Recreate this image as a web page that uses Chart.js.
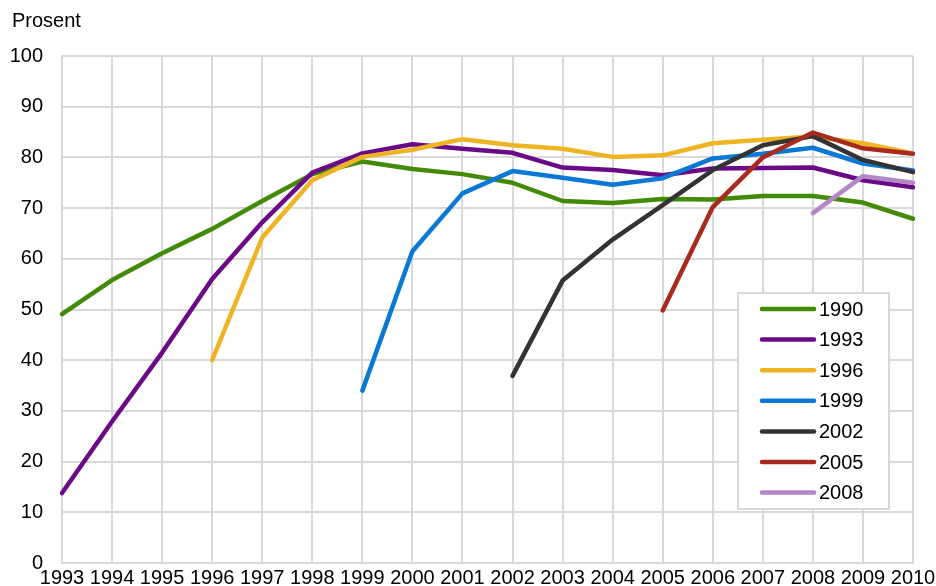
<!DOCTYPE html>
<html>
<head>
<meta charset="utf-8">
<script src="https://cdn.jsdelivr.net/npm/chart.js@4/dist/chart.umd.min.js"></script>
<style>
  html, body { margin: 0; padding: 0; background: #ffffff; }
  #wrap { position: relative; width: 936px; height: 586px; }
</style>
</head>
<body>
<div id="wrap"><canvas id="c" width="936" height="586"></canvas></div>
<script>
const years = ['1993','1994','1995','1996','1997','1998','1999','2000','2001','2002','2003','2004','2005','2006','2007','2008','2009','2010'];
const seriesNames = ['1990','1993','1996','1999','2002','2005','2008'];
const s1990 = [49.1, 55.8, 61.1, 65.9, 71.4, 76.7, 79.2, 77.7, 76.7, 75.0, 71.4, 71.0, 71.8, 71.7, 72.4, 72.4, 71.1, 67.9];
const s1993 = [13.8, 27.9, 41.5, 56.0, 67.2, 77.0, 80.8, 82.6, 81.7, 80.9, 78.0, 77.5, 76.5, 77.8, 77.9, 78.0, 75.5, 74.1];
const s1996 = [null, null, null, 40.0, 64.2, 75.5, 80.1, 81.5, 83.6, 82.4, 81.7, 80.1, 80.4, 82.8, 83.5, 84.1, 82.8, 80.8];
const s1999 = [null, null, null, null, null, null, 34.0, 61.5, 72.9, 77.3, 76.0, 74.6, 75.9, 79.8, 80.7, 81.9, 78.8, 77.4];
const s2002 = [null, null, null, null, null, null, null, null, null, 36.9, 55.7, 63.8, 70.6, 77.5, 82.4, 84.2, 79.5, 77.1];
const s2005 = [null, null, null, null, null, null, null, null, null, null, null, null, 49.8, 70.2, 80.0, 84.9, 81.8, 80.7];
const s2008 = [null, null, null, null, null, null, null, null, null, null, null, null, null, null, null, 69.0, 76.3, 75.0];
const yTicks = [0, 10, 20, 30, 40, 50, 60, 70, 80, 90, 100];
const yTitle = 'Prosent';

const seriesValues = [s1990, s1993, s1996, s1999, s2002, s2005, s2008];
const colors = ['#428a08', '#6b0a87', '#eeb423', '#0a78d4', '#333333', '#a82a1e', '#b386c8'];
const FONT = 'Liberation Sans, Arial, sans-serif';

const datasets = seriesNames.map((name, i) => ({
  label: name,
  data: seriesValues[i],
  borderColor: colors[i],
  backgroundColor: colors[i],
  borderWidth: 4.5,
  pointRadius: 0,
  pointHoverRadius: 0,
  tension: 0,
  fill: false,
  spanGaps: false,
  borderJoinStyle: 'round',
  borderCapStyle: 'round',
  order: seriesNames.length - i
}));

const extras = {
  id: 'extras',
  afterDraw(chart) {
    const ctx = chart.ctx;
    ctx.save();
    ctx.fillStyle = '#000000';
    ctx.font = '20px ' + FONT;
    ctx.textAlign = 'left';
    ctx.textBaseline = 'middle';
    ctx.fillText(yTitle, 12, 21);
    const x0 = 738, y0 = 293, w = 151, h = 216;
    ctx.fillStyle = '#ffffff';
    ctx.fillRect(x0, y0, w, h);
    ctx.strokeStyle = '#d9d9d9';
    ctx.lineWidth = 2;
    ctx.strokeRect(x0, y0, w, h);
    chart.data.datasets.forEach((ds, i) => {
      const cy = 309 + i * 30.6;
      ctx.strokeStyle = ds.borderColor;
      ctx.lineWidth = 4.5;
      ctx.lineCap = 'round';
      ctx.beginPath();
      ctx.moveTo(762, cy);
      ctx.lineTo(814, cy);
      ctx.stroke();
      ctx.fillStyle = '#000000';
      ctx.font = '20px ' + FONT;
      ctx.textAlign = 'left';
      ctx.textBaseline = 'middle';
      ctx.fillText(ds.label, 819, cy + 1);
    });
    ctx.restore();
  }
};

new Chart(document.getElementById('c'), {
  type: 'line',
  data: { labels: years, datasets },
  options: {
    responsive: false,
    animation: false,
    events: [],
    layout: { padding: { top: 56, right: 23, bottom: 0, left: 0 } },
    plugins: { legend: { display: false }, tooltip: { enabled: false }, title: { display: false } },
    scales: {
      x: {
        type: 'category',
        offset: false,
        grid: { color: '#d9d9d9', lineWidth: 2, drawTicks: false },
        border: { color: '#d9d9d9', width: 2 },
        ticks: { color: '#000000', font: { family: FONT, size: 20 }, padding: 3, autoSkip: false, maxRotation: 0, minRotation: 0 },
        afterFit(scale) { scale.height = 23; scale.paddingLeft = 0; scale.paddingRight = 0; }
      },
      y: {
        min: 0, max: 100,
        afterBuildTicks(scale) { scale.ticks = yTicks.map(v => ({ value: v })); },
        grid: { color: '#d9d9d9', lineWidth: 2, drawTicks: false },
        border: { color: '#d9d9d9', width: 2 },
        ticks: { color: '#000000', font: { family: FONT, size: 20 }, padding: 19 },
        afterFit(scale) { scale.width = 62; scale.paddingTop = 0; scale.paddingBottom = 0; }
      }
    }
  },
  plugins: [extras]
});
</script>
</body>
</html>
